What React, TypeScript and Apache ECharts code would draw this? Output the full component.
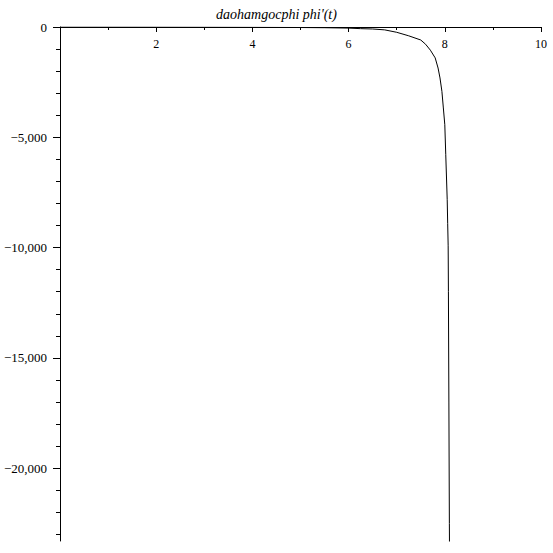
import React, { useEffect, useRef } from "react";
import * as echarts from "echarts";

const titleText = "daohamgocphi phi'(t)";
const tValues = [0, 1, 2, 3, 4, 5, 5.5, 6, 6.25, 6.5, 6.75, 7, 7.25, 7.5, 7.6, 7.7, 7.8, 7.86, 7.9, 7.94, 7.97, 8.0, 8.02, 8.05, 8.06, 8.07, 8.075, 8.085, 8.095, 8.1];
const phiValues = [-1, -2, -4, -8, -14, -24, -32, -50, -75, -90, -130, -240, -400, -590, -780, -1050, -1400, -1860, -2310, -2920, -3670, -4430, -5790, -7830, -8900, -9920, -12000, -17000, -22500, -24500];
const xLabelValues = [2, 4, 6, 8, 10];
const xMinorTicks = [1, 3, 5, 7, 9];
const yLabelValues = [0, -5000, -10000, -15000, -20000];
const yMinorTicks = [-1000, -2000, -3000, -4000, -6000, -7000, -8000, -9000, -11000, -12000, -13000, -14000, -16000, -17000, -18000, -19000, -21000, -22000, -23000];
const xMin = 0;
const xMax = 10;
const yMin = -23300;
const yMax = 0;

const FONT = "'Liberation Serif', 'Times New Roman', serif";

export default function App() {
  const ref = useRef<HTMLDivElement>(null);
  useEffect(() => {
    if (!ref.current) return;
    const chart = echarts.init(ref.current, null, { renderer: "svg" });
    const data = tValues.map((t, i) => [t, phiValues[i]]);
    const fmtY = (v: number) => (v === 0 ? "0" : "\u2212" + Math.abs(v).toLocaleString("en-US"));
    chart.setOption({
      animation: false,
      backgroundColor: "#fff",
      title: {
        text: titleText,
        left: "center",
        top: 2,
        textStyle: { fontFamily: FONT, fontStyle: "italic", fontWeight: "normal", fontSize: 14, color: "#000" },
      },
      grid: { left: 60, top: 27, width: 481, height: 514, containLabel: false, outerBoundsMode: "none" },
      xAxis: [
        {
          type: "value",
          min: xMin,
          max: xMax,
          position: "top",
          axisLine: { show: true, onZero: false, lineStyle: { color: "#000", width: 1 } },
          splitLine: { show: false },
          axisTick: { show: true, inside: true, length: 5, customValues: xLabelValues, lineStyle: { color: "#000" } },
          axisLabel: { show: true, inside: true, customValues: xLabelValues, margin: 11, fontFamily: FONT, fontSize: 12, color: "#000" },
        },
        {
          type: "value",
          min: xMin,
          max: xMax,
          position: "top",
          axisLine: { show: false, onZero: false },
          splitLine: { show: false },
          axisTick: { show: true, inside: true, length: 3, customValues: xMinorTicks, lineStyle: { color: "#000" } },
          axisLabel: { show: false },
        },
      ],
      yAxis: [
        {
          type: "value",
          min: yMin,
          max: yMax,
          position: "left",
          axisLine: { show: true, onZero: false, lineStyle: { color: "#000", width: 1 } },
          splitLine: { show: false },
          axisTick: { show: true, length: 7, customValues: yLabelValues, lineStyle: { color: "#000" } },
          axisLabel: { show: true, customValues: yLabelValues, margin: 13, formatter: fmtY, fontFamily: FONT, fontSize: 13, color: "#000" },
        },
        {
          type: "value",
          min: yMin,
          max: yMax,
          position: "left",
          axisLine: { show: false, onZero: false },
          splitLine: { show: false },
          axisTick: { show: true, length: 4, customValues: yMinorTicks, lineStyle: { color: "#000" } },
          axisLabel: { show: false },
        },
      ],
      series: [
        {
          type: "line",
          data,
          xAxisIndex: 0,
          yAxisIndex: 0,
          showSymbol: false,
          clip: true,
          smooth: false,
          lineStyle: { color: "#000", width: 1 },
        },
      ],
    });
    return () => chart.dispose();
  }, []);
  return <div ref={ref} style={{ position: "fixed", left: 0, top: 0, width: 553, height: 553 }} />;
}
